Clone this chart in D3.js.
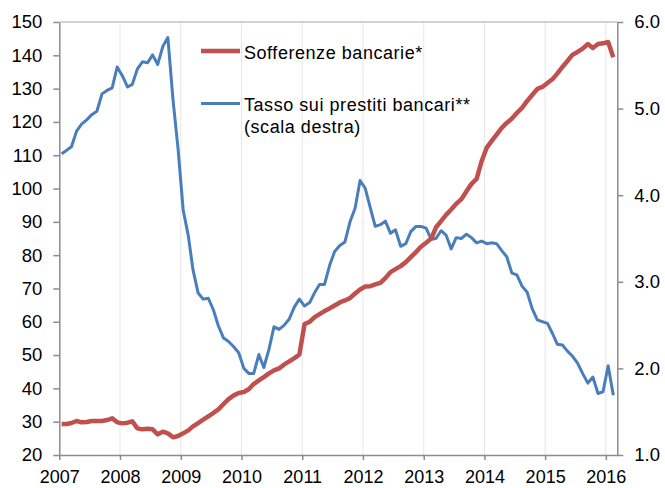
<!DOCTYPE html>
<html><head><meta charset="utf-8">
<script src="https://cdn.jsdelivr.net/npm/d3@7"></script>
<style>
html,body{margin:0;padding:0;background:#fff;}
svg{display:block;font-family:"Liberation Sans",Arial,sans-serif;}
</style></head>
<body>
<svg id="chart" width="665" height="488"></svg>
<script>
// Monthly observations, Jan 2007 – Feb 2016
const startMonth = [2007, 0];
const sofferenze = [
29.3,29.3,29.6,30.2,29.8,29.9,30.2,30.2,30.2,30.5,31.0,29.8,
29.5,29.7,30.1,28.0,27.7,27.9,27.7,26.2,27.0,26.5,25.3,25.7,
26.5,27.4,28.6,29.6,30.6,31.6,32.6,33.7,35.3,36.8,37.9,38.6,
38.9,39.8,41.3,42.4,43.4,44.5,45.4,46.0,47.2,48.1,49.1,50.2,
59.3,60.0,61.3,62.3,63.2,64.0,64.9,65.8,66.4,67.1,68.5,69.7,
70.6,70.7,71.2,71.7,73.1,74.9,75.8,76.7,77.9,79.4,80.9,82.5,
83.7,85.0,88.3,90.2,92.1,93.7,95.4,96.8,99.2,101.4,102.9,108.2,
112.3,114.4,116.2,118.2,119.7,121.0,122.7,124.2,126.3,128.1,129.9,130.5,
131.7,132.9,134.5,136.5,138.3,140.2,141.0,142.0,143.4,142.2,143.4,143.6,
144.0,139.4
];
const tasso = [
4.48,4.52,4.56,4.74,4.82,4.87,4.93,4.97,5.17,5.21,5.24,5.48,
5.38,5.25,5.28,5.46,5.54,5.53,5.62,5.51,5.72,5.82,5.10,4.54,
3.83,3.53,3.14,2.87,2.80,2.81,2.68,2.49,2.35,2.31,2.25,2.18,
2.00,1.94,1.94,2.16,2.01,2.22,2.48,2.45,2.50,2.57,2.71,2.80,
2.72,2.76,2.87,2.97,2.97,3.19,3.35,3.42,3.46,3.69,3.85,4.17,
4.08,3.85,3.64,3.66,3.70,3.56,3.60,3.41,3.44,3.58,3.64,3.64,
3.62,3.49,3.50,3.59,3.54,3.38,3.51,3.50,3.55,3.51,3.45,3.47,
3.44,3.45,3.44,3.36,3.29,3.10,3.08,2.95,2.88,2.69,2.56,2.54,
2.52,2.40,2.28,2.27,2.20,2.14,2.06,1.94,1.83,1.90,1.71,1.73,
2.03,1.69
];
const yearTicks = [2007,2008,2009,2010,2011,2012,2013,2014,2015,2016];
const leftTicks = [20,30,40,50,60,70,80,90,100,110,120,130,140,150];
const rightTicks = [1,2,3,4,5,6];
const seriesNames = ["Sofferenze bancarie*", "Tasso sui prestiti bancari**", "(scala destra)"];

const svg = d3.select("#chart");
const L = 59.3, R = 617.3, T = 22, B = 455;
const dates = sofferenze.map((_, i) => new Date(startMonth[0], startMonth[1] + i, 15));

const x = d3.scaleTime().domain([new Date(2007,0,1), new Date(2016,2,10)]).range([L, R]);
const yL = d3.scaleLinear().domain([20,150]).range([B, T]);
const yR = d3.scaleLinear().domain([1,6]).range([B, T]);

// vertical grid
svg.append("g").selectAll("line").data(yearTicks.slice(1)).join("line")
  .attr("x1", d => x(new Date(d,0,1))).attr("x2", d => x(new Date(d,0,1)))
  .attr("y1", T).attr("y2", B).attr("stroke", "#e6e6e6").attr("stroke-width", 1);

// top border
svg.append("line").attr("x1", L).attr("x2", R).attr("y1", T).attr("y2", T)
  .attr("stroke", "#a6a6a6").attr("stroke-width", 1);

const axisColor = "#8c8c8c";
function styleAxis(g, size) {
  g.selectAll(".domain").attr("stroke", axisColor).attr("stroke-width", 1.5);
  g.selectAll(".tick line").attr("stroke", axisColor).attr("stroke-width", 1.5);
  g.selectAll("text").attr("fill", "#000").style("font-size", size)
    .style("font-family", '"Liberation Sans", Arial, sans-serif');
}

const gx = svg.append("g").attr("transform", `translate(0,${B})`)
  .call(d3.axisBottom(x).tickValues(yearTicks.map(d => new Date(d,0,1)))
    .tickFormat(d3.timeFormat("%Y")).tickSize(5).tickSizeOuter(0).tickPadding(10));
styleAxis(gx, "18px");

const gl = svg.append("g").attr("transform", `translate(${L},0)`)
  .call(d3.axisLeft(yL).tickValues(leftTicks).tickSize(6).tickSizeOuter(0).tickPadding(11));
styleAxis(gl, "18.5px");

const gr = svg.append("g").attr("transform", `translate(${R},0)`)
  .call(d3.axisRight(yR).tickValues(rightTicks).tickFormat(d3.format(".1f")).tickSize(6).tickSizeOuter(0).tickPadding(11));
styleAxis(gr, "18.5px");

const red = "#C0504D", blue = "#4A7EBB";

svg.append("path").datum(tasso)
  .attr("fill", "none").attr("stroke", blue).attr("stroke-width", 3).attr("stroke-linejoin", "round")
  .attr("d", d3.line().x((d, i) => x(dates[i])).y(d => yR(d)));

svg.append("path").datum(sofferenze)
  .attr("fill", "none").attr("stroke", red).attr("stroke-width", 4.5).attr("stroke-linejoin", "round")
  .attr("d", d3.line().x((d, i) => x(dates[i])).y(d => yL(d)));

// legend
const lg = svg.append("g");
lg.append("line").attr("x1", 201).attr("x2", 240).attr("y1", 51).attr("y2", 51)
  .attr("stroke", red).attr("stroke-width", 4.5);
lg.append("text").attr("x", 244).attr("y", 58.5).text(seriesNames[0])
  .style("font-size", "18px").style("letter-spacing", "0.55px");
lg.append("line").attr("x1", 201).attr("x2", 240).attr("y1", 103.5).attr("y2", 103.5)
  .attr("stroke", blue).attr("stroke-width", 3);
lg.append("text").attr("x", 244).attr("y", 111).text(seriesNames[1])
  .style("font-size", "18px").style("letter-spacing", "0.55px");
lg.append("text").attr("x", 244).attr("y", 132.5).text(seriesNames[2])
  .style("font-size", "18px").style("letter-spacing", "0.55px");
</script>
</body></html>
